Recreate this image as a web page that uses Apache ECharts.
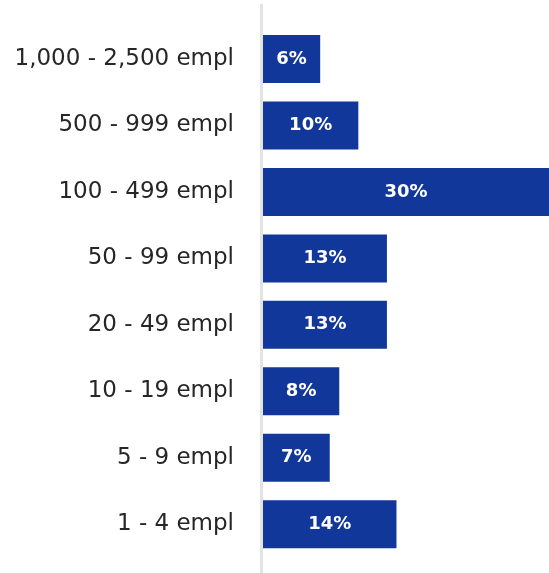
<!DOCTYPE html>
<html><head><meta charset="utf-8">
<script src="https://cdn.jsdelivr.net/npm/echarts@6/dist/echarts.min.js"></script>
<style>html,body{margin:0;padding:0;background:#fff}#c{width:549px;height:573px}</style>
</head><body><div id="c"></div>
<script>
const categories = ["1,000 - 2,500 empl","500 - 999 empl","100 - 499 empl","50 - 99 empl","20 - 49 empl","10 - 19 empl","5 - 9 empl","1 - 4 empl"];
const values = [6, 10, 30, 13, 13, 8, 7, 14];
const chart = echarts.init(document.getElementById('c'));
chart.setOption({
  animation: false,
  grid: [
    {left: 263, right: 0, top: 25.8, bottom: 15.6},
    {left: 261.5, right: 0, top: 5, bottom: 0}
  ],
  xAxis: [
    {gridIndex: 0, type: 'value', min: 0, max: 30, show: false},
    {gridIndex: 1, type: 'value', min: 0, max: 30, show: false}
  ],
  yAxis: [
    {gridIndex: 0, type: 'category', data: categories, inverse: true,
     axisLine: {show: false}, axisTick: {show: false},
     axisLabel: {margin: 29, fontFamily: 'DejaVu Sans', fontSize: 23, color: '#262626'}},
    {gridIndex: 1, type: 'category', data: [''], 
     axisLine: {show: true, lineStyle: {color: '#e3e3e3', width: 3}},
     axisTick: {show: false}, axisLabel: {show: false}}
  ],
  series: [{
    type: 'bar', xAxisIndex: 0, yAxisIndex: 0,
    data: values, barWidth: 48,
    itemStyle: {color: '#12379a'},
    label: {show: true, position: 'inside', formatter: '{c}%', color: '#fff',
      fontFamily: 'DejaVu Sans', fontWeight: 'bold', fontSize: 18}
  }]
});
</script></body></html>
